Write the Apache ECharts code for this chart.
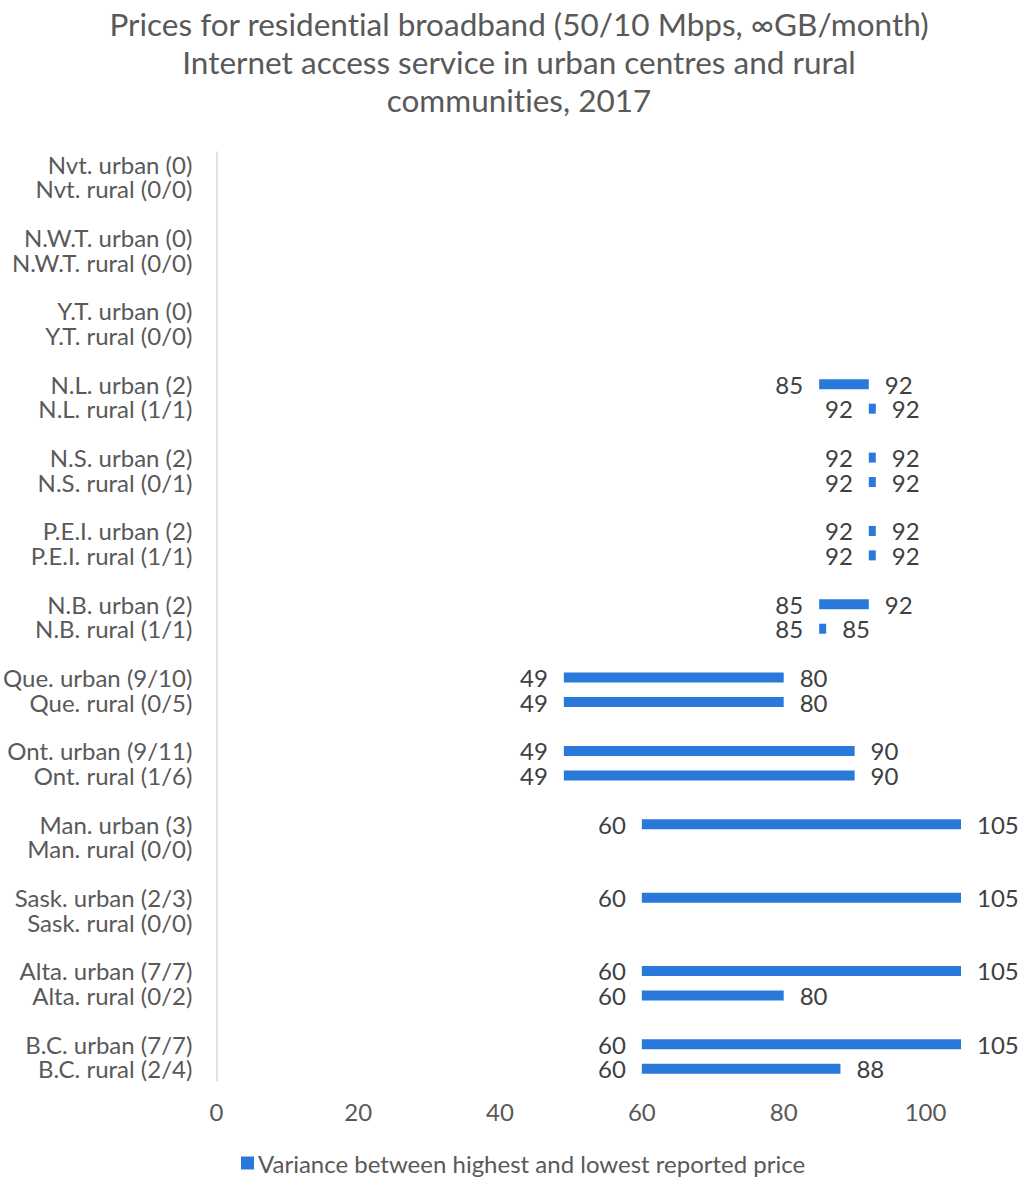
<!DOCTYPE html>
<html>
<head>
<meta charset="utf-8">
<script src="https://cdn.jsdelivr.net/npm/echarts@6/dist/echarts.min.js"></script>
<style>
  html, body { margin: 0; padding: 0; background: #fff; }
  #chart { width: 1021px; height: 1178px; }
  #chart text { font-variant-ligatures: none; font-feature-settings: "liga" 0; }
</style>
</head>
<body>
<div id="chart"></div>
<script>
// Row labels, top to bottom; empty strings are spacer rows between provinces
const categories = [
  'Nvt. urban (0)', 'Nvt. rural (0/0)', '',
  'N.W.T. urban (0)', 'N.W.T. rural (0/0)', '',
  'Y.T. urban (0)', 'Y.T. rural (0/0)', '',
  'N.L. urban (2)', 'N.L. rural (1/1)', '',
  'N.S. urban (2)', 'N.S. rural (0/1)', '',
  'P.E.I. urban (2)', 'P.E.I. rural (1/1)', '',
  'N.B. urban (2)', 'N.B. rural (1/1)', '',
  'Que. urban (9/10)', 'Que. rural (0/5)', '',
  'Ont. urban (9/11)', 'Ont. rural (1/6)', '',
  'Man. urban (3)', 'Man. rural (0/0)', '',
  'Sask. urban (2/3)', 'Sask. rural (0/0)', '',
  'Alta. urban (7/7)', 'Alta. rural (0/2)', '',
  'B.C. urban (7/7)', 'B.C. rural (2/4)'
];

// Lowest reported price per row
const lowPrice = [
  null, null, null,
  null, null, null,
  null, null, null,
  85, 92, null,
  92, 92, null,
  92, 92, null,
  85, 85, null,
  49, 49, null,
  49, 49, null,
  60, null, null,
  60, null, null,
  60, 60, null,
  60, 60
];

// Highest reported price per row
const highPrice = [
  null, null, null,
  null, null, null,
  null, null, null,
  92, 92, null,
  92, 92, null,
  92, 92, null,
  92, 85, null,
  80, 80, null,
  90, 90, null,
  105, null, null,
  105, null, null,
  105, 80, null,
  105, 88
];

const xTicks = { min: 0, max: 105, interval: 20 };

const spread = lowPrice.map((lo, i) =>
  (lo == null || highPrice[i] == null) ? null : highPrice[i] - lo);

const FONT = 'Lato, "Open Sans", sans-serif';
const TEXT = '#595959';
const BLUE = '#2979DB';

const chart = echarts.init(document.getElementById('chart'), null, { renderer: 'svg' });

chart.setOption({
  animation: false,
  backgroundColor: '#ffffff',
  title: {
    text: 'Prices for residential broadband (50/10 Mbps, \u221eGB/month)\nInternet access service in urban centres and rural\ncommunities, 2017',
    left: 514,
    textAlign: 'center',
    top: 0,
    textStyle: {
      fontFamily: FONT,
      fontSize: 31.5,
      lineHeight: 38,
      fontWeight: 'normal',
      color: TEXT
    }
  },
  legend: {
    data: ['Variance between highest and lowest reported price'],
    top: 1146,
    left: 236,
    icon: 'rect',
    itemWidth: 13,
    itemHeight: 13,
    itemGap: 6,
    textStyle: { fontFamily: FONT, fontSize: 24, color: TEXT, padding: [0, 0, 0, -1] }
  },
  grid: { left: 214, right: 60, top: 152, bottom: 97, containLabel: false },
  xAxis: {
    type: 'value',
    min: xTicks.min,
    max: xTicks.max,
    interval: xTicks.interval,
    axisLine: { show: false },
    axisTick: { show: false },
    splitLine: { show: false },
    axisLabel: {
      showMaxLabel: false,
      margin: 18,
      fontFamily: FONT,
      fontSize: 24,
      color: TEXT
    }
  },
  yAxis: {
    type: 'category',
    inverse: true,
    data: categories,
    axisLine: { show: true, lineStyle: { color: '#d9d9d9', width: 1.5 } },
    axisTick: { show: false },
    splitLine: { show: false },
    axisLabel: {
      interval: 0,
      margin: 24,
      fontFamily: FONT,
      fontSize: 24,
      lineHeight: 20,
      color: TEXT
    }
  },
  series: [
    {
      name: 'base',
      type: 'bar',
      stack: 'range',
      barWidth: 10,
      data: lowPrice,
      itemStyle: { color: 'transparent' },
      emphasis: { disabled: true },
      label: {
        show: true,
        position: 'insideRight',
        distance: 16,
        fontFamily: FONT,
        fontSize: 24,
        lineHeight: 20,
        color: '#404040',
        formatter: p => p.value == null ? '' : String(p.value)
      }
    },
    {
      name: 'Variance between highest and lowest reported price',
      type: 'bar',
      stack: 'range',
      barWidth: 10,
      barMinHeight: 7,
      data: spread,
      itemStyle: { color: BLUE },
      label: {
        show: true,
        position: 'right',
        distance: 16,
        fontFamily: FONT,
        fontSize: 24,
        lineHeight: 20,
        color: '#404040',
        formatter: p => p.value == null ? '' : String(highPrice[p.dataIndex])
      }
    }
  ]
});
</script>
</body>
</html>
